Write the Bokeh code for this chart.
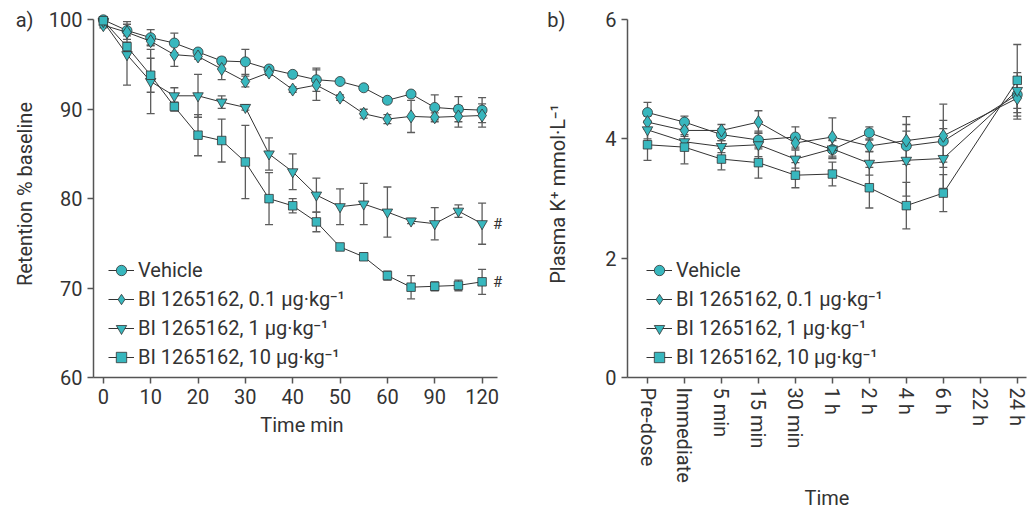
import math
from bokeh.plotting import figure
from bokeh.models import (ColumnDataSource, Whisker, TeeHead, FixedTicker, Legend,
                          LegendItem, Label, Range1d, LinearAxis)
from bokeh.layouts import row
from bokeh.embed import file_html
from bokeh.resources import INLINE

# ---------------- data ----------------
series_labels = ["Vehicle",
                 "BI 1265162, 0.1 \u00b5g\u00b7kg\u207b\u00b9",
                 "BI 1265162, 1 \u00b5g\u00b7kg\u207b\u00b9",
                 "BI 1265162, 10 \u00b5g\u00b7kg\u207b\u00b9"]

# panel a) retention (% baseline) vs time (min)
times = [0, 5, 10, 15, 20, 25, 30, 35, 40, 45, 50, 55, 60, 75, 90, 105, 120]
tick_times = [0, 10, 20, 30, 40, 50, 60, 90, 120]

ret_vehicle = [100.0, 98.8, 98.0, 97.4, 96.4, 95.4, 95.3, 94.5, 93.9, 93.3, 93.1, 92.4, 91.0, 91.7, 90.2, 90.0, 89.9]
ret_vehicle_sem = [0.2, 1.0, 0.9, 1.1, 0.3, 0.4, 1.4, 0.3, 0.3, 1.3, 0.3, 0.3, 0.3, 0.3, 1.4, 1.4, 1.4]
ret_low = [99.4, 98.6, 97.6, 96.1, 95.9, 94.5, 93.1, 94.1, 92.2, 92.7, 91.3, 89.5, 88.9, 89.2, 89.1, 89.2, 89.3]
ret_low_sem = [0.3, 0.4, 0.4, 1.3, 0.3, 1.2, 0.6, 0.3, 0.3, 1.7, 0.3, 0.5, 0.5, 1.8, 0.5, 1.2, 1.3]
ret_mid = [99.8, 96.1, 93.1, 91.5, 91.5, 90.8, 90.2, 85.0, 83.0, 80.4, 79.1, 79.4, 78.5, 77.5, 77.2, 78.6, 77.2]
ret_mid_sem = [0.3, 3.4, 3.6, 0.9, 2.4, 0.7, 0.3, 1.8, 2.0, 1.9, 2.0, 2.3, 2.8, 0.3, 1.8, 0.7, 2.3]
ret_high = [99.9, 97.0, 93.8, 90.3, 87.1, 86.5, 84.1, 80.0, 79.2, 77.4, 74.6, 73.5, 71.4, 70.1, 70.2, 70.3, 70.7]
ret_high_sem = [0.2, 0.5, 1.9, 0.5, 2.3, 2.4, 4.1, 2.9, 0.8, 1.1, 0.3, 0.4, 0.5, 1.3, 0.5, 0.6, 1.4]

# panel b) plasma K+ (mmol/L) by sampling time
categories = ["Pre-dose", "Immediate", "5 min", "15 min", "30 min", "1 h", "2 h", "4 h", "6 h", "22 h", "24 h"]
sample_times = ["Pre-dose", "Immediate", "5 min", "15 min", "30 min", "1 h", "2 h", "4 h", "6 h", "24 h"]
k_vehicle = [4.44, 4.28, 4.07, 3.98, 4.03, 3.82, 4.10, 3.88, 3.96, 4.74]
k_vehicle_sem = [0.17, 0.10, 0.10, 0.15, 0.17, 0.15, 0.10, 0.25, 0.35, 0.30]
k_low = [4.28, 4.14, 4.14, 4.28, 3.93, 4.03, 3.88, 3.97, 4.05, 4.68]
k_low_sem = [0.10, 0.10, 0.10, 0.19, 0.10, 0.32, 0.10, 0.40, 0.53, 0.35]
k_mid = [4.15, 3.95, 3.87, 3.90, 3.66, 3.83, 3.59, 3.64, 3.67, 4.81]
k_mid_sem = [0.15, 0.12, 0.10, 0.20, 0.15, 0.15, 0.20, 0.60, 0.50, 0.30]
k_high = [3.90, 3.86, 3.66, 3.60, 3.39, 3.41, 3.18, 2.88, 3.09, 4.98]
k_high_sem = [0.26, 0.28, 0.18, 0.26, 0.21, 0.20, 0.34, 0.39, 0.31, 0.60]

# ---------------- style ----------------
FONT = "Roboto"
FS = "20px"
TEAL = "#38b7be"
INK = "#333333"
AXIS = "#555555"
ERR = "#5c5c5c"
H = 512

markers = [("circle", 10), ("diamond", 13), ("inverted_triangle", 10.5), ("square", 8.5)]


def style(p):
    p.outline_line_color = None
    p.xgrid.visible = False
    p.ygrid.visible = False
    p.background_fill_color = "white"
    for ax in (p.xaxis[0], p.yaxis[0]):
        ax.axis_line_color = AXIS
        ax.axis_line_width = 1.5
        ax.major_tick_line_color = AXIS
        ax.major_tick_line_width = 1.5
        ax.major_tick_in = 0
        ax.major_tick_out = 6
        ax.minor_tick_line_color = None
        ax.major_label_text_font = FONT
        ax.major_label_text_font_size = FS
        ax.major_label_text_color = INK
        ax.axis_label_text_font = FONT
        ax.axis_label_text_font_size = FS
        ax.axis_label_text_font_style = "normal"
        ax.axis_label_text_color = INK
        ax.major_label_standoff = 5


def add_series(p, x, y, err, mk):
    marker, size = mk
    src = ColumnDataSource(dict(x=x, y=y,
                                lo=[a - b for a, b in zip(y, err)],
                                hi=[a + b for a, b in zip(y, err)]))
    w = Whisker(base="x", upper="hi", lower="lo", source=src, level="underlay",
                line_color=ERR, line_width=1.3,
                upper_head=TeeHead(size=8, line_color=ERR, line_width=1.3),
                lower_head=TeeHead(size=8, line_color=ERR, line_width=1.3))
    p.add_layout(w)
    ln = p.line("x", "y", source=src, line_color=INK, line_width=1)
    sc = p.scatter("x", "y", source=src, marker=marker, size=size,
                   fill_color=TEAL, line_color=INK, line_width=0.8)
    return [ln, sc]


def add_legend(p, renderer_groups, x):
    items = [LegendItem(label=lab, renderers=r) for lab, r in zip(series_labels, renderer_groups)]
    lg = Legend(items=items, location=(x, 7), orientation="vertical",
                glyph_width=26, glyph_height=26, spacing=3, padding=0, margin=0,
                label_standoff=4, label_height=26,
                label_text_font=FONT, label_text_font_size=FS, label_text_color=INK,
                border_line_alpha=0, background_fill_alpha=0)
    p.add_layout(lg)


def panel_letter_axis(p, text, standoff):
    # an empty outer axis whose (horizontal) axis label carries the panel letter
    kw = {}
    if "axis_label_align" in LinearAxis.properties():
        kw["axis_label_align"] = "end"
        text = "\n" + text
        kw["axis_label_text_line_height"] = 0.8
    else:
        text = text + "\n" * 14
    ax = LinearAxis(axis_label=text, ticker=FixedTicker(ticks=[]),
                    axis_line_color=None, major_tick_line_color=None, minor_tick_line_color=None,
                    major_tick_in=0, major_tick_out=0, major_label_text_font_size="0px",
                    major_label_standoff=0,
                    axis_label_orientation="horizontal", axis_label_standoff=standoff,
                    axis_label_text_font=FONT, axis_label_text_font_size=FS,
                    axis_label_text_font_style="normal", axis_label_text_color=INK, **kw)
    p.add_layout(ax, "left")


# ---------------- panel a ----------------
xa = list(range(len(times)))
p1 = figure(width=510, height=H, x_range=Range1d(-0.415, 17.2), y_range=Range1d(60, 101.04),
            output_backend="svg", toolbar_location=None,
            min_border_left=93, min_border_right=0, min_border_top=10, min_border_bottom=H - 378)
style(p1)
p1.xaxis.bounds = (-0.415, 16.67)
p1.yaxis.bounds = (60, 100)
p1.xaxis.ticker = FixedTicker(ticks=[times.index(t) for t in tick_times])
p1.xaxis.major_label_overrides = {times.index(t): str(t) for t in tick_times}
p1.yaxis.ticker = FixedTicker(ticks=[60, 70, 80, 90, 100])
p1.xaxis.axis_label = "Time min"
p1.xaxis.axis_label_standoff = 6
p1.yaxis.axis_label = "Retention % baseline"
p1.yaxis.axis_label_standoff = 9

groups_a = []
for yv, ev, mk in zip([ret_vehicle, ret_low, ret_mid, ret_high],
                      [ret_vehicle_sem, ret_low_sem, ret_mid_sem, ret_high_sem], markers):
    groups_a.append(add_series(p1, xa, yv, ev, mk))
add_legend(p1, groups_a, 15)

for yv in (ret_mid, ret_high):
    p1.add_layout(Label(x=xa[-1], y=yv[-1], text="#", x_offset=11, text_align="left",
                        text_baseline="middle", text_font=FONT, text_font_size="15px",
                        text_color=INK))
panel_letter_axis(p1, "a)", -24)

# ---------------- panel b ----------------
xb = [categories.index(c) for c in sample_times]
p2 = figure(width=520, height=H, x_range=Range1d(-0.541, 10.25), y_range=Range1d(0, 6.15),
            output_backend="svg", toolbar_location=None,
            min_border_left=117, min_border_right=4, min_border_top=10, min_border_bottom=H - 378)
style(p2)
p2.yaxis.bounds = (0, 6)
p2.xaxis.ticker = FixedTicker(ticks=list(range(len(categories))))
p2.xaxis.major_label_overrides = {i: c for i, c in enumerate(categories)}
p2.xaxis.major_label_orientation = "vertical"
p2.xaxis.major_label_standoff = 4
p2.xaxis.axis_label = "Time"
p2.xaxis.axis_label_standoff = 0
p2.yaxis.ticker = FixedTicker(ticks=[0, 2, 4, 6])
p2.yaxis.axis_label = "Plasma K\u207a mmol\u00b7L\u207b\u00b9"
p2.yaxis.axis_label_standoff = 32

groups_b = []
for yv, ev, mk in zip([k_vehicle, k_low, k_mid, k_high],
                      [k_vehicle_sem, k_low_sem, k_mid_sem, k_high_sem], markers):
    groups_b.append(add_series(p2, xb, yv, ev, mk))
add_legend(p2, groups_b, 19)

panel_letter_axis(p2, "b)", -22)

layout = row(p1, p2)
open("out.html", "w").write(file_html(layout, INLINE))
